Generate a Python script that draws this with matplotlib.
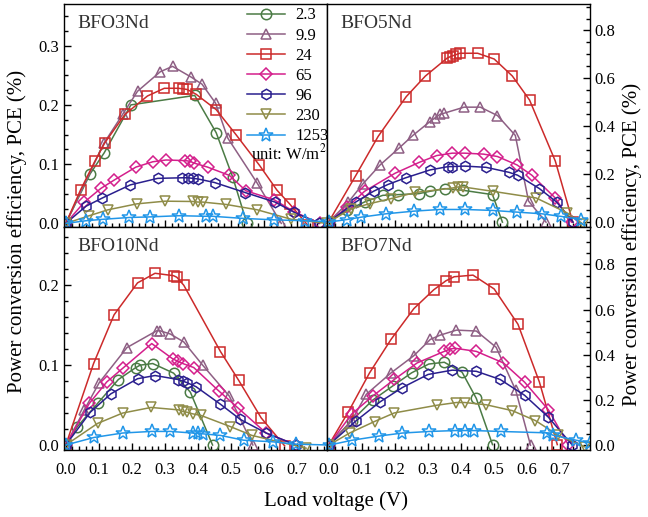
import matplotlib
matplotlib.use("Agg")
import matplotlib.pyplot as plt
from matplotlib.ticker import MultipleLocator

plt.rcParams['font.family'] = ['Liberation Serif', 'DejaVu Serif']
plt.rcParams['mathtext.fontset'] = 'stix'

# light intensities (W/m^2), one series per intensity
intensity = ['2.3', '9.9', '24', '65', '96', '230', '1253']
colors = ['#4b7b45', '#8e5f84', '#cc2a2a', '#d41f8c', '#2a1f8e', '#8f8c48', '#2196e8']
markers = ['o', '^', 's', 'D', 'h', 'v', '*']

# BFO3Nd
bfo3_v = [
    [0, 0.074, 0.116, 0.197, 0.39, 0.455, 0.505, 0.548],
    [0, 0.115, 0.172, 0.217, 0.286, 0.323, 0.379, 0.412, 0.453, 0.49, 0.579, 0.652],
    [0, 0.045, 0.088, 0.118, 0.179, 0.247, 0.298, 0.341, 0.356, 0.367, 0.394, 0.455,
     0.516, 0.586, 0.639, 0.677, 0.732],
    [0, 0.056, 0.106, 0.146, 0.212, 0.263, 0.303, 0.36, 0.375, 0.387, 0.429, 0.495,
     0.545, 0.63, 0.69, 0.768],
    [0, 0.061, 0.111, 0.195, 0.278, 0.352, 0.37, 0.384, 0.40, 0.45, 0.543, 0.633, 0.69, 0.765],
    [0, 0.071, 0.128, 0.215, 0.3, 0.384, 0.40, 0.414, 0.485, 0.579, 0.682, 0.79],
    [0, 0.061, 0.114, 0.192, 0.256, 0.343, 0.424, 0.444, 0.535, 0.631, 0.724, 0.793],
]
bfo3_p = [
    [0, 0.084, 0.119, 0.20, 0.216, 0.153, 0.078, 0.0],
    [0, 0.135, 0.184, 0.223, 0.256, 0.265, 0.247, 0.235, 0.203, 0.144, 0.068, 0.0],
    [0, 0.057, 0.105, 0.136, 0.184, 0.215, 0.228, 0.228, 0.227, 0.226, 0.218, 0.192,
     0.149, 0.098, 0.056, 0.033, -0.003],
    [0, 0.036, 0.059, 0.073, 0.095, 0.104, 0.107, 0.106, 0.105, 0.102, 0.095, 0.081,
     0.055, 0.04, 0.02, 0.0],
    [0, 0.029, 0.043, 0.065, 0.076, 0.077, 0.077, 0.076, 0.075, 0.069, 0.052, 0.036, 0.019, 0.0],
    [0, 0.013, 0.023, 0.033, 0.0375, 0.037, 0.036, 0.036, 0.032, 0.023, 0.007, 0.0],
    [0, 0.0045, 0.007, 0.01, 0.011, 0.013, 0.012, 0.012, 0.0085, 0.006, 0.0045, 0.003],
]

# BFO5Nd
bfo5_v = [
    [0, 0.055, 0.11, 0.164, 0.211, 0.273, 0.307, 0.352, 0.407, 0.496, 0.526],
    [0, 0.06, 0.104, 0.156, 0.213, 0.255, 0.307, 0.322, 0.337, 0.35, 0.41, 0.459, 0.511,
     0.565, 0.605, 0.658],
    [0, 0.082, 0.15, 0.235, 0.293, 0.359, 0.367, 0.377, 0.387, 0.397, 0.451, 0.501, 0.556,
     0.608, 0.686, 0.739],
    [0, 0.057, 0.109, 0.201, 0.275, 0.327, 0.374, 0.412, 0.469, 0.511, 0.57, 0.615, 0.685, 0.735],
    [0, 0.082, 0.136, 0.179, 0.233, 0.307, 0.362, 0.372, 0.412, 0.476, 0.546, 0.572, 0.638,
     0.69, 0.74],
    [0, 0.069, 0.124, 0.188, 0.263, 0.377, 0.392, 0.407, 0.496, 0.628, 0.72, 0.769],
    [0, 0.055, 0.099, 0.174, 0.258, 0.337, 0.412, 0.496, 0.57, 0.645, 0.704, 0.764],
]
bfo5_p = [
    [0, 0.049, 0.085, 0.112, 0.115, 0.119, 0.129, 0.14, 0.133, 0.115, 0.0],
    [0, 0.084, 0.16, 0.239, 0.309, 0.362, 0.42, 0.435, 0.45, 0.455, 0.48, 0.48, 0.445,
     0.362, 0.088, 0.0],
    [0, 0.194, 0.358, 0.524, 0.61, 0.685, 0.69, 0.695, 0.70, 0.705, 0.705, 0.681, 0.61,
     0.51, 0.255, 0.0],
    [0, 0.063, 0.129, 0.204, 0.25, 0.278, 0.288, 0.288, 0.284, 0.274, 0.239, 0.196, 0.102, 0.0],
    [0, 0.084, 0.129, 0.157, 0.185, 0.218, 0.232, 0.232, 0.234, 0.229, 0.208, 0.196, 0.14,
     0.084, 0.0],
    [0, 0.056, 0.077, 0.098, 0.124, 0.143, 0.147, 0.147, 0.129, 0.101, 0.04, -0.007],
    [0, 0.011, 0.021, 0.035, 0.046, 0.053, 0.053, 0.049, 0.042, 0.035, 0.024, 0.011],
]

# BFO10Nd
bfo10_v = [
    [0, 0.035, 0.096, 0.159, 0.212, 0.225, 0.263, 0.326, 0.377, 0.444],
    [0, 0.056, 0.101, 0.185, 0.275, 0.285, 0.316, 0.357, 0.414, 0.495, 0.566],
    [0, 0.084, 0.146, 0.217, 0.27, 0.326, 0.336, 0.357, 0.468, 0.523, 0.591, 0.662],
    [0, 0.071, 0.124, 0.172, 0.26, 0.323, 0.338, 0.354, 0.387, 0.462, 0.522, 0.606, 0.697],
    [0, 0.074, 0.136, 0.217, 0.27, 0.34, 0.354, 0.367, 0.394, 0.468, 0.528, 0.606, 0.697],
    [0, 0.096, 0.172, 0.258, 0.341, 0.354, 0.367, 0.384, 0.409, 0.498, 0.563, 0.727],
    [0, 0.086, 0.172, 0.26, 0.316, 0.384, 0.399, 0.414, 0.468, 0.538, 0.626, 0.697, 0.798],
]
bfo10_p = [
    [0, 0.023, 0.052, 0.082, 0.097, 0.1, 0.102, 0.09, 0.066, 0.0],
    [0, 0.044, 0.078, 0.122, 0.143, 0.143, 0.139, 0.129, 0.1, 0.061, 0.0],
    [0, 0.102, 0.163, 0.203, 0.215, 0.212, 0.21, 0.2, 0.117, 0.081, 0.034, -0.001],
    [0, 0.052, 0.079, 0.096, 0.127, 0.108, 0.105, 0.102, 0.097, 0.068, 0.046, 0.015, 0.0],
    [0, 0.041, 0.064, 0.083, 0.087, 0.082, 0.08, 0.078, 0.073, 0.051, 0.032, 0.015, 0.0],
    [0, 0.027, 0.04, 0.047, 0.044, 0.042, 0.041, 0.039, 0.037, 0.023, 0.012, -0.004],
    [0, 0.0095, 0.015, 0.017, 0.017, 0.015, 0.0145, 0.014, 0.012, 0.006, 0.004, 0.001, 0.0],
]

# BFO7Nd
bfo7_v = [
    [0, 0.07, 0.134, 0.194, 0.251, 0.303, 0.35, 0.404, 0.447, 0.496],
    [0, 0.07, 0.114, 0.189, 0.258, 0.308, 0.338, 0.387, 0.447, 0.507, 0.566, 0.611],
    [0, 0.06, 0.124, 0.189, 0.258, 0.318, 0.355, 0.38, 0.437, 0.501, 0.573, 0.638, 0.692],
    [0, 0.07, 0.134, 0.199, 0.268, 0.35, 0.367, 0.382, 0.447, 0.529, 0.593, 0.665, 0.725],
    [0, 0.084, 0.156, 0.223, 0.301, 0.374, 0.447, 0.519, 0.593, 0.665, 0.738],
    [0, 0.065, 0.139, 0.199, 0.328, 0.387, 0.412, 0.477, 0.556, 0.626, 0.695, 0.775],
    [0, 0.07, 0.154, 0.223, 0.305, 0.384, 0.412, 0.44, 0.521, 0.66, 0.68, 0.75, 0.79],
]
bfo7_p = [
    [0, 0.109, 0.2, 0.262, 0.32, 0.359, 0.367, 0.323, 0.207, 0.003],
    [0, 0.109, 0.225, 0.32, 0.396, 0.468, 0.487, 0.509, 0.505, 0.433, 0.244, 0.0],
    [0, 0.148, 0.32, 0.468, 0.604, 0.687, 0.727, 0.745, 0.752, 0.691, 0.535, 0.279, 0.003],
    [0, 0.138, 0.218, 0.291, 0.364, 0.415, 0.425, 0.429, 0.415, 0.364, 0.279, 0.157, 0.003],
    [0, 0.109, 0.192, 0.255, 0.313, 0.332, 0.327, 0.291, 0.221, 0.124, 0.0],
    [0, 0.055, 0.105, 0.143, 0.177, 0.189, 0.189, 0.179, 0.153, 0.109, 0.044, -0.007],
    [0, 0.022, 0.041, 0.054, 0.061, 0.065, 0.065, 0.065, 0.061, 0.055, 0.044, 0.022, 0.012],
]

panels = [
    # name, v, p, ylim, major, minor, side
    ('BFO3Nd', bfo3_v, bfo3_p, (-0.006, 0.37), 0.1, 0.025, 'left'),
    ('BFO5Nd', bfo5_v, bfo5_p, (-0.02, 0.91), 0.2, 0.05, 'right'),
    ('BFO10Nd', bfo10_v, bfo10_p, (-0.006, 0.273), 0.1, 0.02, 'left'),
    ('BFO7Nd', bfo7_v, bfo7_p, (-0.02, 0.965), 0.2, 0.05, 'right'),
]

fig, axs = plt.subplots(2, 2, figsize=(6.48, 5.17), dpi=100)
fig.subplots_adjust(left=0.099, right=0.910, top=0.992, bottom=0.130,
                    wspace=0, hspace=0)

for ax, (name, vs, ps, ylim, major, minor, side) in zip(axs.flatten(), panels):
    for v, p, lab, c, m in zip(vs, ps, intensity, colors, markers):
        ms = 10 if m == '*' else 7.5
        if m == 'D':
            ms = 6.5
        ax.plot(v, p, color=c, marker=m, mfc='none', mec=c, ms=ms,
                lw=1.1, mew=1.1, label=lab)
    ax.set_xlim(-0.005, 0.79)
    ax.set_ylim(*ylim)
    ax.xaxis.set_major_locator(MultipleLocator(0.1))
    ax.xaxis.set_minor_locator(MultipleLocator(0.02))
    ax.yaxis.set_major_locator(MultipleLocator(major))
    ax.yaxis.set_minor_locator(MultipleLocator(minor))
    ax.tick_params(which='both', direction='in', labelsize=12, top=False,
                   left=(side == 'left'), right=(side == 'right'),
                   labelleft=(side == 'left'), labelright=(side == 'right'))
    ax.tick_params(which='major', length=5, width=1)
    ax.tick_params(which='minor', length=3, width=1)
    ax.tick_params(axis='x', which='both', bottom=True, pad=9)
    ax.yaxis.set_major_formatter(plt.FormatStrFormatter('%.1f'))
    ax.xaxis.set_major_formatter(plt.FormatStrFormatter('%.1f'))
    ax.text(0.05, 0.95, name, transform=ax.transAxes, fontsize=14,
            ha='left', va='top', color='#333333')
    for s in ax.spines.values():
        s.set_linewidth(1.0)

for ax in axs[0]:
    ax.tick_params(labelbottom=False)

leg = axs[0, 0].legend(loc='upper right', bbox_to_anchor=(1.045, 1.03), frameon=False,
                       fontsize=12, handlelength=2.3, labelspacing=0.25,
                       handletextpad=0.6, borderaxespad=0.2)
axs[0, 0].text(1.0, 0.33, 'unit: W/m$^2$', transform=axs[0, 0].transAxes,
               fontsize=12, ha='right', va='center')

fig.text(0.026, 0.552, 'Power conversion efficiency, PCE (%)', rotation=90,
         ha='center', va='center', fontsize=15)
fig.text(0.975, 0.528, 'Power conversion efficiency, PCE (%)', rotation=90,
         ha='center', va='center', fontsize=15)
fig.text(0.519, 0.03, 'Load voltage (V)', ha='center', va='center', fontsize=15)

fig.savefig('out.png', dpi=100)
